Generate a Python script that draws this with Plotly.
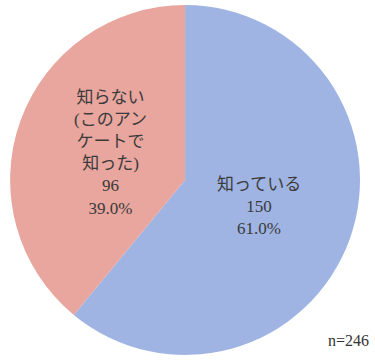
import math
import plotly.graph_objects as go

# data
categorias = ["知っている", "知らない(このアンケートで知った)"]
etiquetas = ["知っている", "知らない<br>(このアン<br>ケートで<br>知った)"]
cantidades = [150, 96]
colores = ["#9fb4e2", "#e8a69e"]
n_total = 246

W, H = 375, 360
dom_x = [0.027, 0.96]
dom_y = [0.014, 0.986]

fig = go.Figure(go.Pie(
    labels=categorias,
    values=cantidades,
    sort=False,
    direction="clockwise",
    rotation=0,
    marker=dict(colors=colores, line=dict(width=0)),
    textinfo="none",
    hoverinfo="label+value+percent",
    domain=dict(x=dom_x, y=dom_y),
    showlegend=False,
))

# etiquetas dentro de cada sector, sobre la bisectriz
cx = (dom_x[0] + dom_x[1]) / 2 * W
cy = (dom_y[0] + dom_y[1]) / 2 * H
radio = min((dom_x[1] - dom_x[0]) * W, (dom_y[1] - dom_y[0]) * H) / 2
total = sum(cantidades)
acum = 0
for etq, val in zip(etiquetas, cantidades):
    medio = (acum + val / 2) / total * 2 * math.pi
    acum += val
    px_ = cx + 0.45 * radio * math.sin(medio)
    py_ = cy + 0.45 * radio * math.cos(medio)
    fig.add_annotation(
        text=f"{etq}<br>{val}<br>{val / total:.1%}",
        x=px_ / W, y=py_ / H, xref="paper", yref="paper",
        xanchor="center", yanchor="middle",
        showarrow=False, align="center",
        font=dict(family="Liberation Serif, Noto Sans CJK JP", size=17, color="#3a3a3a"),
    )

fig.add_annotation(
    text=f"n={n_total}", x=0.99, y=0.025, xref="paper", yref="paper",
    xanchor="right", yanchor="bottom", showarrow=False,
    font=dict(family="Liberation Serif", size=16, color="#333333"),
)

fig.update_layout(
    width=W, height=H,
    margin=dict(t=0, b=0, l=0, r=0),
    paper_bgcolor="white",
    plot_bgcolor="white",
)

# quitar el margen por defecto del body
fig.write_html("out.html", config={"displayModeBar": False},
               post_script="document.body.style.margin='0';")
